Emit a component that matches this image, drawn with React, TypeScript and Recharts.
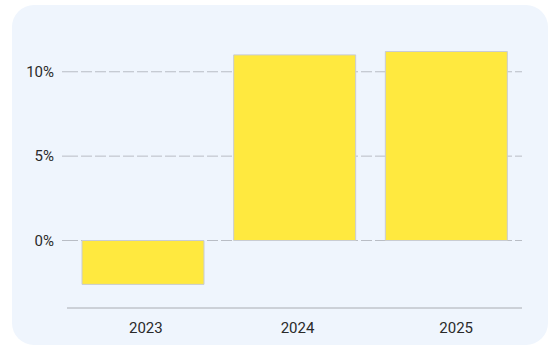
import { BarChart, Bar, XAxis, YAxis, CartesianGrid } from 'recharts';

const years = ['2023', '2024', '2025'];
const growth = [-2.6, 11.0, 11.2];
const yTicks = [0, 5, 10];

const data = years.map((year, i) => ({ year, value: growth[i] }));

// the original's category labels sit a little right of the bar centres
const labelShift = [3, 3, 10];

const YearTick = (props: any) => {
  const { x, y, payload, index } = props;
  return (
    <text
      x={x + (labelShift[index] ?? 0)}
      y={y}
      dy="0.71em"
      textAnchor="middle"
      fill="#2a2a2a"
      fontSize={15}
    >
      {payload.value}
    </text>
  );
};

export default function App() {
  return (
    <div
      style={{
        position: 'absolute',
        left: 12,
        top: 5,
        width: 536,
        height: 340,
        background: '#eff5fd',
        borderRadius: 22,
        fontFamily: 'Roboto, sans-serif',
      }}
    >
      <BarChart
        width={536}
        height={340}
        data={data}
        margin={{ top: 33, right: 26, bottom: 0, left: 0 }}
        barCategoryGap={15}
      >
        <CartesianGrid
          vertical={false}
          horizontalValues={yTicks}
          stroke="#b9bdc5"
          strokeDasharray="11 3"
        />
        <XAxis
          dataKey="year"
          height={37}
          tickLine={false}
          axisLine={{ stroke: '#a9acb2' }}
          tick={<YearTick />}
          tickMargin={8}
        />
        <YAxis
          width={55}
          domain={[-4, 12]}
          ticks={yTicks}
          axisLine={false}
          tickSize={5}
          tickLine={{ stroke: '#b9bdc5' }}
          tickMargin={8}
          tickFormatter={(v: number) => `${v}%`}
          tick={{ fill: '#2a2a2a', fontSize: 15 }}
        />
        <Bar
          dataKey="value"
          fill="#ffe93f"
          stroke="#c9ccd2"
          strokeWidth={1}
          isAnimationActive={false}
        />
      </BarChart>
    </div>
  );
}
